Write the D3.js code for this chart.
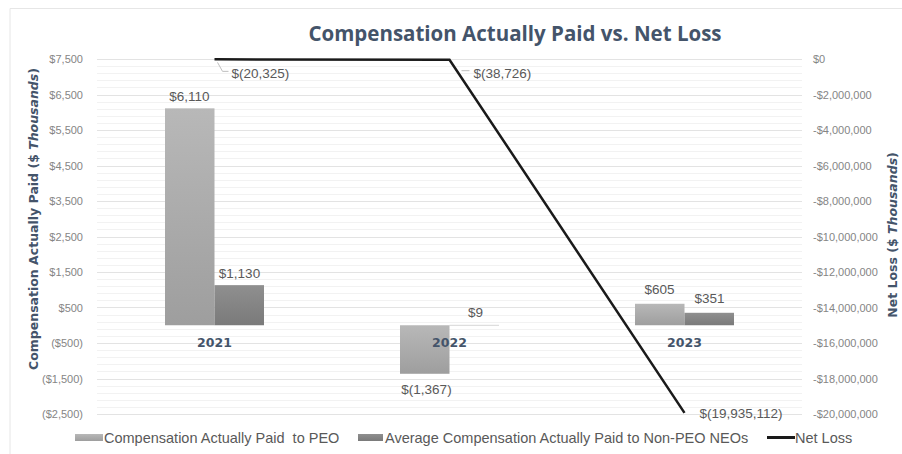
<!DOCTYPE html>
<html><head><meta charset="utf-8">
<script src="https://cdn.jsdelivr.net/npm/d3@7"></script>
<style>body{margin:0;background:#fff}svg{display:block;font-family:"Liberation Sans",Arial,sans-serif}</style>
</head><body><svg id="c" width="902" height="454"></svg>
<script>
const years = ["2021","2022","2023"];
const peoValues = [6110, -1367, 605];
const neoValues = [1130, 9, 351];
const netLoss = [-20325, -38726, -19935112];
const peoLabels = ["$6,110","$(1,367)","$605"];
const neoLabels = ["$1,130","$9","$351"];
const netLossLabels = ["$(20,325)","$(38,726)","$(19,935,112)"];
const leftTicks = [7500,6500,5500,4500,3500,2500,1500,500,-500,-1500,-2500];
const rightTicks = [0,-2e6,-4e6,-6e6,-8e6,-10e6,-12e6,-14e6,-16e6,-18e6,-20e6];

const svg = d3.select("#c");
const L = 97, R = 802, T = 59, B = 414;
const x = d3.scaleBand().domain(years).range([L, R]);
const yL = d3.scaleLinear().domain([-2500, 7500]).range([B, T]);
const yR = d3.scaleLinear().domain([-20e6, 0]).range([B, T]);

svg.append("path").attr("d","M10,454 V8.5 H902").attr("fill","none").attr("stroke","#e6e6e6");

const defs = svg.append("defs");
function grad(id, c1, c2){
  const g = defs.append("linearGradient").attr("id",id).attr("x1",0).attr("y1",0).attr("x2",0).attr("y2",1);
  g.append("stop").attr("offset","0%").attr("stop-color",c1);
  g.append("stop").attr("offset","100%").attr("stop-color",c2);
}
grad("gp","#b8b8b8","#9e9e9e");
grad("gn","#8f8f8f","#7a7a7a");

svg.append("g").selectAll("line").data(d3.range(-2500,7500,1000).flatMap(b=>[200,400,600,800].map(o=>b+o))).join("line")
  .attr("x1",L).attr("x2",R).attr("y1",d=>Math.round(yL(d))+0.5).attr("y2",d=>Math.round(yL(d))+0.5)
  .attr("stroke","#f2f2f2").attr("stroke-width",1);
svg.append("g").selectAll("line").data(leftTicks).join("line")
  .attr("x1",L).attr("x2",R).attr("y1",d=>Math.round(yL(d))+0.5).attr("y2",d=>Math.round(yL(d))+0.5)
  .attr("stroke","#e3e3e3").attr("stroke-width",1);

const fmtL = v => v < 0 ? "($" + d3.format(",")(-v) + ")" : "$" + d3.format(",")(v);
const gl = svg.append("g").attr("transform",`translate(${L-14},0)`)
  .call(d3.axisLeft(yL).tickValues(leftTicks).tickFormat(fmtL).tickSize(0).tickPadding(0));
gl.select(".domain").remove();
gl.selectAll("text").style("fill","#858585").attr("font-size",11).attr("font-family","'Liberation Sans',Arial,sans-serif");

const fmtR = v => v === 0 ? "$0" : "-$" + d3.format(",")(-v);
const gr = svg.append("g").attr("transform",`translate(${R+11},0)`)
  .call(d3.axisRight(yR).tickValues(rightTicks).tickFormat(fmtR).tickSize(0).tickPadding(0));
gr.select(".domain").remove();
gr.selectAll("text").style("fill","#858585").attr("font-size",11).attr("font-family","'Liberation Sans',Arial,sans-serif");

const bw = 49.5;
const bars = svg.append("g");
years.forEach((yr,i)=>{
  const cx = x(yr) + x.bandwidth()/2;
  const p = peoValues[i], n = neoValues[i];
  bars.append("rect").attr("x",cx-bw).attr("width",bw)
    .attr("y",yL(Math.max(0,p))).attr("height",Math.abs(yL(p)-yL(0))).attr("fill","url(#gp)");
  bars.append("rect").attr("x",cx).attr("width",bw)
    .attr("y",yL(Math.max(0,n))).attr("height",Math.abs(yL(n)-yL(0))).attr("fill","url(#gn)");
});

svg.append("g").selectAll("text").data(years).join("text")
  .attr("x",d=>x(d)+x.bandwidth()/2).attr("y",yL(0)+22).attr("text-anchor","middle")
  .attr("font-weight","bold").attr("font-size",12.5).attr("fill","#44546a")
  .attr("font-family","'DejaVu Sans',sans-serif").text(d=>d);

const lab = svg.append("g").attr("font-size",13.5).attr("fill","#595959");
const peoOff = [[-25,-7],[-23,20],[-25,-10]];
const neoOff = [[25,-7],[26,-8],[25,-10]];
years.forEach((yr,i)=>{
  const cx = x(yr) + x.bandwidth()/2;
  const p = peoValues[i], n = neoValues[i];
  lab.append("text").attr("x",cx+peoOff[i][0]).attr("y",yL(p)+peoOff[i][1]).attr("text-anchor","middle").text(peoLabels[i]);
  lab.append("text").attr("x",cx+neoOff[i][0]).attr("y",yL(n)+neoOff[i][1]).attr("text-anchor","middle").text(neoLabels[i]);
});

const line = d3.line().x((d,i)=>x(years[i])+x.bandwidth()/2).y(d=>yR(d));
svg.append("path").datum(netLoss).attr("d",line).attr("fill","none").attr("stroke","#1a1a1a").attr("stroke-width",2.5);

const nl = svg.append("g").attr("font-size",13.5).attr("fill","#595959");
const cx0 = x(years[0])+x.bandwidth()/2, cx1 = x(years[1])+x.bandwidth()/2, cx2 = x(years[2])+x.bandwidth()/2;
nl.append("path").attr("d",`M${cx0+3},${yR(netLoss[0])+3} L${cx0+8},${yR(netLoss[0])+12} H${cx0+14}`).attr("fill","none").attr("stroke","#bfbfbf");
nl.append("text").attr("x",cx0+17).attr("y",yR(netLoss[0])+19).text(netLossLabels[0]);
nl.append("path").attr("d",`M${cx1+12},${yR(netLoss[1])+11} H${cx1+20}`).attr("fill","none").attr("stroke","#bfbfbf");
nl.append("text").attr("x",cx1+24).attr("y",yR(netLoss[1])+18).text(netLossLabels[1]);
nl.append("text").attr("x",cx2+15).attr("y",yR(netLoss[2])+5).text(netLossLabels[2]);

svg.append("text").attr("x",515).attr("y",41).attr("text-anchor","middle")
  .attr("font-family","'Open Sans','Liberation Sans',sans-serif").attr("font-weight","bold")
  .attr("font-size",20.5).attr("fill","#44546a").text("Compensation Actually Paid vs. Net Loss");

const lt = svg.append("text").attr("transform","translate(38,219) rotate(-90)").attr("text-anchor","middle")
  .attr("font-weight","bold").attr("font-size",12.5).attr("fill","#44546a")
  .attr("font-family","'DejaVu Sans',sans-serif");
lt.append("tspan").text("Compensation Actually Paid ($ ");
lt.append("tspan").attr("font-style","italic").text("Thousands");
lt.append("tspan").text(")");
const rt = svg.append("text").attr("transform","translate(897,235) rotate(-90)").attr("text-anchor","middle")
  .attr("font-weight","bold").attr("font-size",12.5).attr("fill","#44546a")
  .attr("font-family","'DejaVu Sans',sans-serif");
rt.append("tspan").text("Net  Loss ($ ");
rt.append("tspan").attr("font-style","italic").text("Thousands");
rt.append("tspan").text(")");

const lg = svg.append("g").attr("font-size",14.5).attr("fill","#595959");
lg.append("rect").attr("x",75).attr("y",434).attr("width",28).attr("height",7).attr("fill","url(#gp)");
lg.append("text").attr("x",104).attr("y",443).attr("xml:space","preserve").text("Compensation Actually Paid  to PEO");
lg.append("rect").attr("x",358).attr("y",434).attr("width",25).attr("height",7).attr("fill","url(#gn)");
lg.append("text").attr("x",385).attr("y",443).text("Average Compensation Actually Paid to Non-PEO NEOs");
lg.append("line").attr("x1",767).attr("x2",795).attr("y1",437.5).attr("y2",437.5).attr("stroke","#1a1a1a").attr("stroke-width",3);
lg.append("text").attr("x",795).attr("y",443).text("Net Loss");
</script></body></html>
